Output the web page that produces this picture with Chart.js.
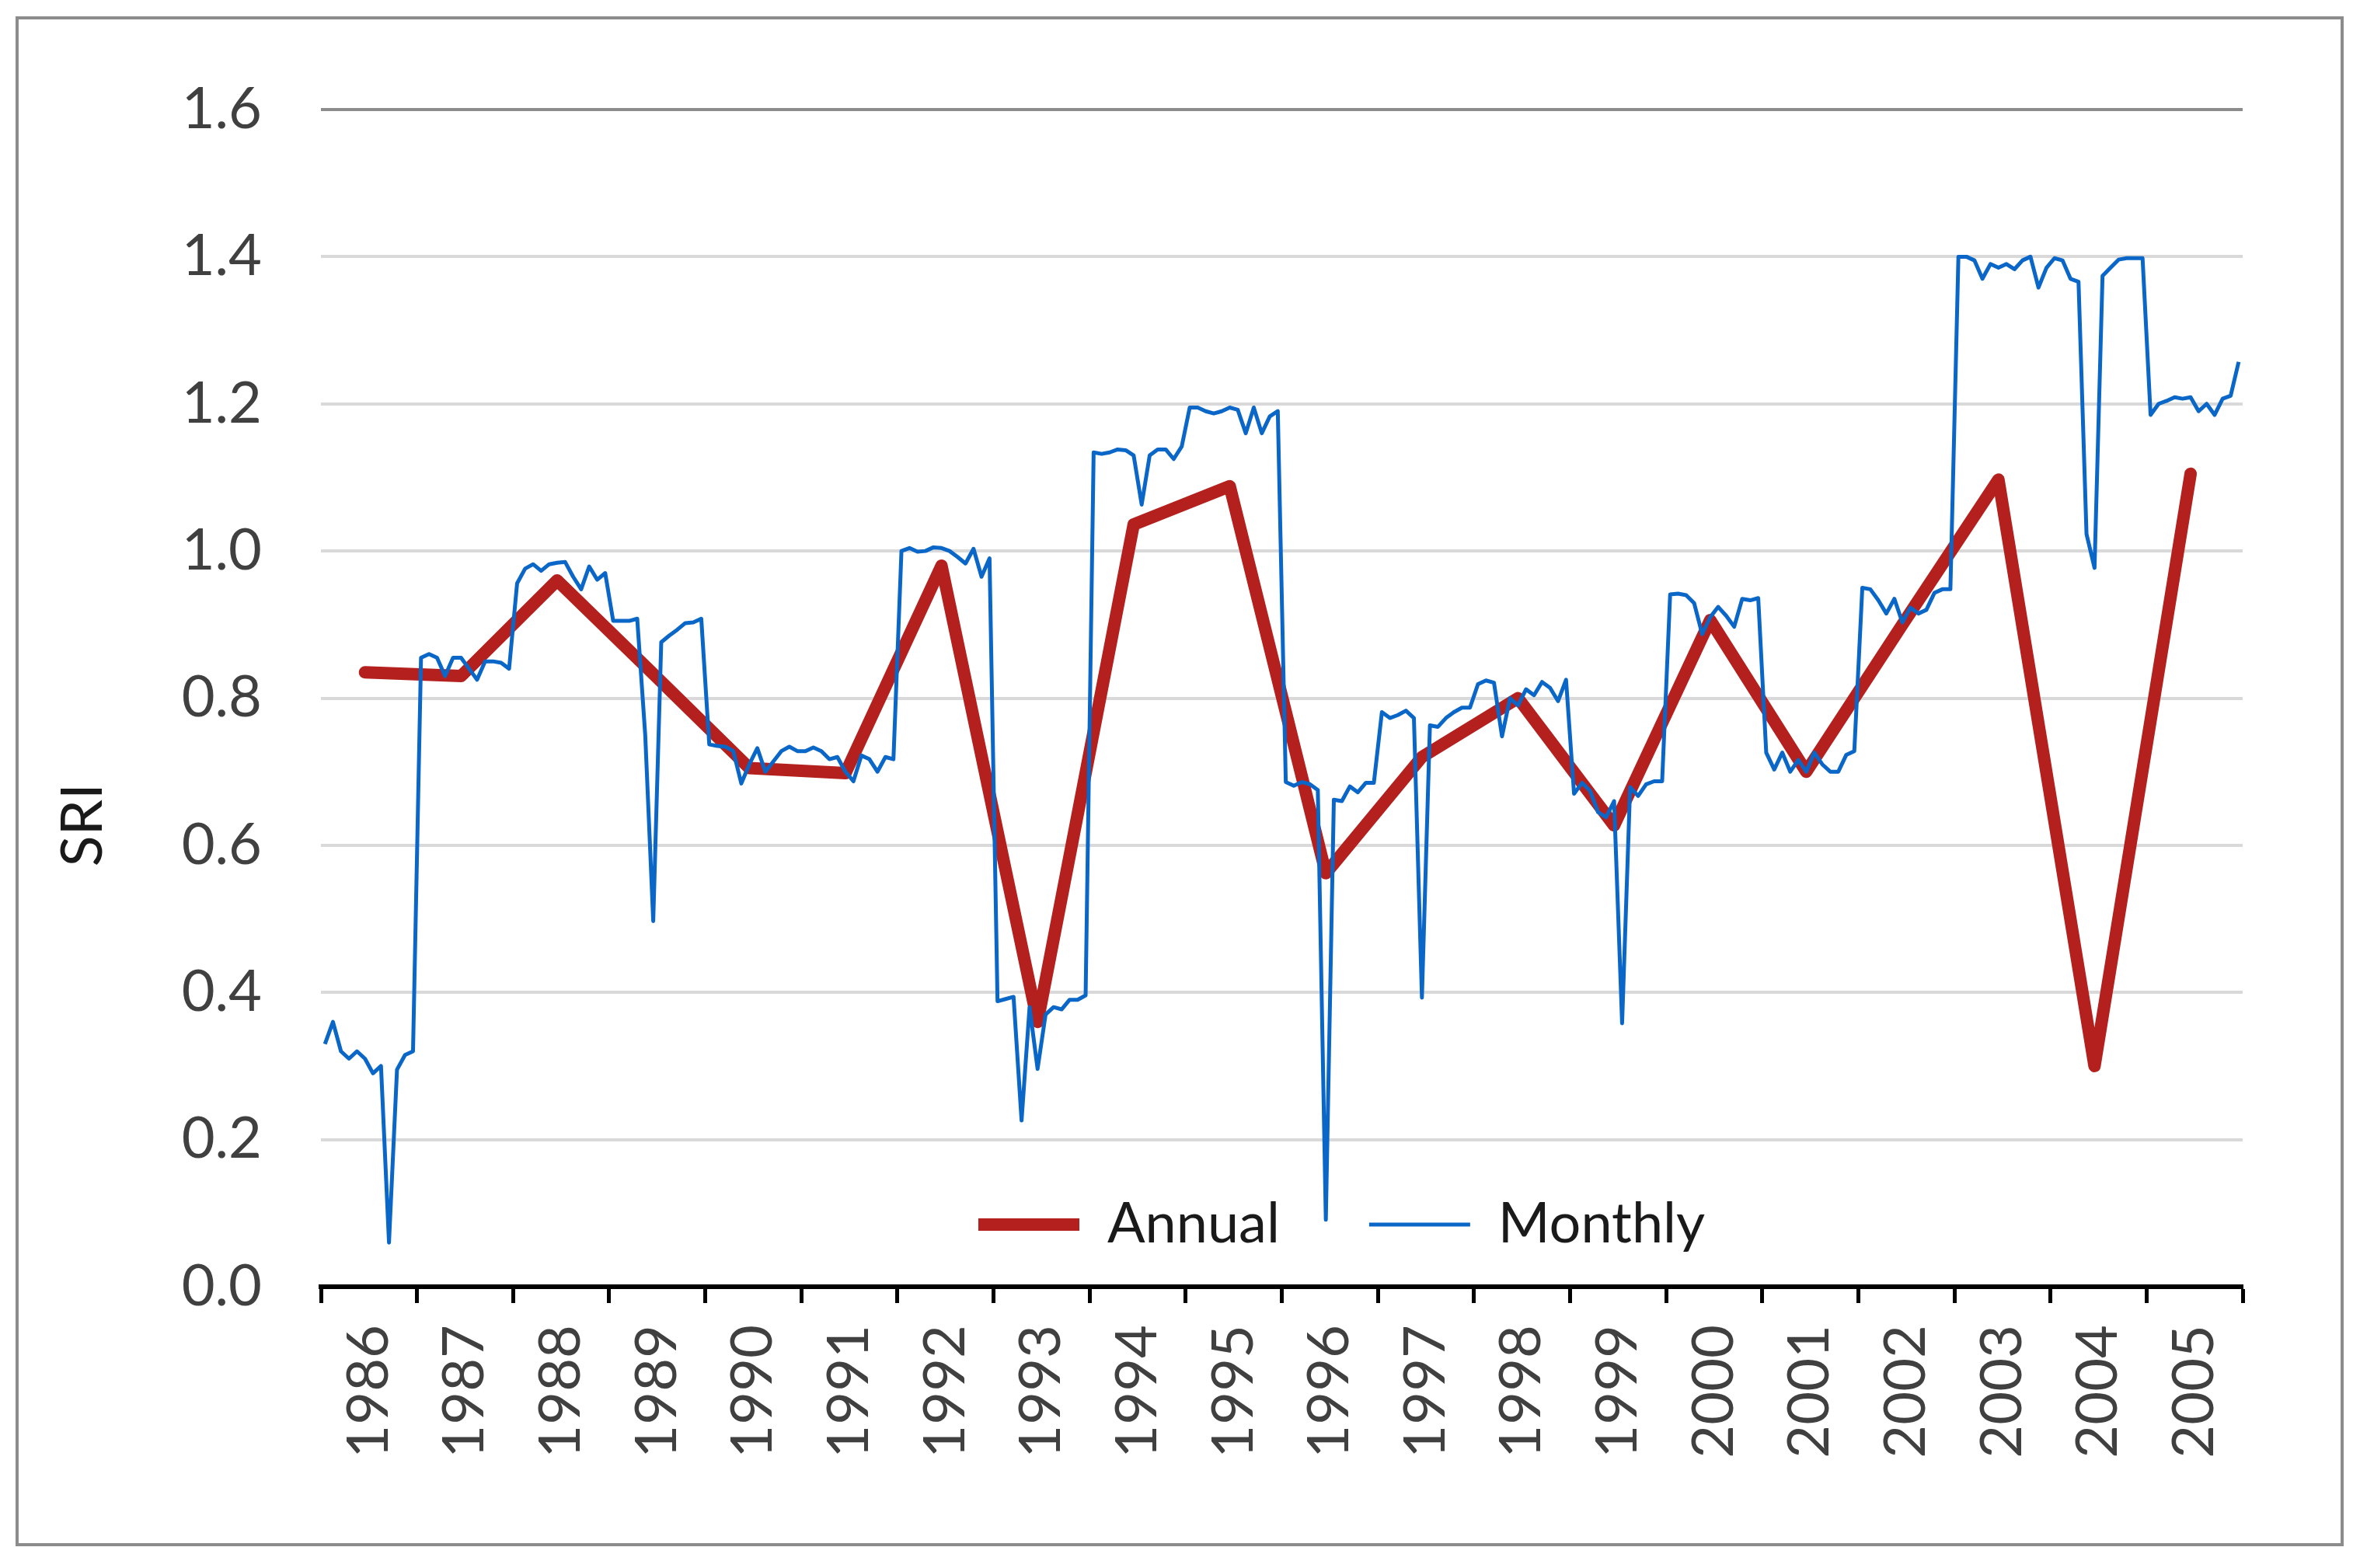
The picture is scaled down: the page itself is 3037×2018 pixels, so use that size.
<!DOCTYPE html>
<html>
<head>
<meta charset="utf-8">
<script src="https://cdn.jsdelivr.net/npm/chart.js@4.4.1/dist/chart.umd.min.js"></script>
<style>
  html, body { margin: 0; padding: 0; background: #ffffff; width: 3037px; height: 2018px; overflow: hidden; }
  #frame { position: absolute; left: 20px; top: 21px; width: 2996px; height: 1969px; border: 4px solid #8c8c8c; box-sizing: border-box; }
  #c { position: absolute; left: 0; top: 0; width: 3037px; height: 2018px; }
</style>
</head>
<body>
<div id="frame"></div>
<canvas id="c" width="3037" height="2018"></canvas>
<script>
// ---- data ----
const years = ['1986','1987','1988','1989','1990','1991','1992','1993','1994','1995',
               '1996','1997','1998','1999','2000','2001','2002','2003','2004','2005'];

const annual = [0.835, 0.83, 0.96, 0.833, 0.705, 0.698, 0.98, 0.36, 1.036, 1.088,
                0.562, 0.72, 0.80, 0.627, 0.906, 0.70, 0.90, 1.097, 0.30, 1.105];

const monthly = [
  0.33, 0.36, 0.32, 0.31, 0.32, 0.31, 0.29, 0.30, 0.06, 0.295, 0.315, 0.32,          // 1986
  0.855, 0.86, 0.855, 0.83, 0.855, 0.855, 0.84, 0.825, 0.85, 0.85, 0.848, 0.84,      // 1987
  0.956, 0.976, 0.982, 0.973, 0.982, 0.984, 0.985, 0.965, 0.948, 0.979, 0.961, 0.97, // 1988
  0.905, 0.905, 0.905, 0.908, 0.75, 0.497, 0.876, 0.885, 0.893, 0.902, 0.903, 0.908, // 1989
  0.737, 0.735, 0.734, 0.728, 0.684, 0.71, 0.732, 0.70, 0.714, 0.728, 0.734, 0.728,  // 1990
  0.728, 0.733, 0.728, 0.717, 0.72, 0.70, 0.687, 0.722, 0.717, 0.70, 0.72, 0.717,    // 1991
  1.0, 1.004, 0.999, 1.0, 1.005, 1.004, 1.0, 0.992, 0.983, 1.003, 0.965, 0.99,       // 1992
  0.388, 0.391, 0.394, 0.226, 0.38, 0.296, 0.37, 0.38, 0.377, 0.39, 0.39, 0.396,     // 1993
  1.134, 1.132, 1.134, 1.138, 1.137, 1.13, 1.063, 1.13, 1.138, 1.138, 1.125, 1.142,  // 1994
  1.195, 1.195, 1.19, 1.187, 1.19, 1.195, 1.192, 1.16, 1.195, 1.16, 1.183, 1.19,     // 1995
  0.686, 0.681, 0.686, 0.683, 0.675, 0.091, 0.662, 0.66, 0.68, 0.672, 0.685, 0.685,  // 1996
  0.781, 0.773, 0.777, 0.783, 0.773, 0.393, 0.763, 0.761, 0.773, 0.781, 0.787, 0.787, // 1997
  0.819, 0.824, 0.821, 0.748, 0.80, 0.79, 0.812, 0.804, 0.822, 0.814, 0.796, 0.825,  // 1998
  0.67, 0.685, 0.674, 0.645, 0.638, 0.66, 0.358, 0.679, 0.667, 0.683, 0.687, 0.687,  // 1999
  0.941, 0.942, 0.94, 0.929, 0.887, 0.91, 0.924, 0.912, 0.897, 0.935, 0.933, 0.936,  // 2000
  0.726, 0.703, 0.726, 0.70, 0.716, 0.70, 0.726, 0.71, 0.70, 0.70, 0.723, 0.728,     // 2001
  0.95, 0.948, 0.933, 0.915, 0.935, 0.903, 0.923, 0.915, 0.92, 0.943, 0.948, 0.948,  // 2002
  1.40, 1.40, 1.395, 1.37, 1.39, 1.385, 1.39, 1.383, 1.395, 1.40, 1.358, 1.385,      // 2003
  1.398, 1.395, 1.37, 1.366, 1.023, 0.977, 1.374, 1.385, 1.396, 1.398, 1.398, 1.398, // 2004
  1.185, 1.20, 1.204, 1.209, 1.207, 1.209, 1.19, 1.20, 1.185, 1.207, 1.211, 1.257    // 2005
];

const yTicks = [0, 0.2, 0.4, 0.6, 0.8, 1.0, 1.2, 1.4, 1.6];
const yTitleText = 'SRI';

// ---- helpers (position on the monthly category axis) ----
const MONTHS = 12;
const monthlyPoints = monthly.map((v, i) => ({ x: i + 0.5, y: v }));
const annualPoints = annual.map((v, k) => ({ x: k * MONTHS + 5.5, y: v }));
const xTickValues = [];
for (let k = 0; k <= years.length * 2; k++) xTickValues.push(k * MONTHS / 2);

const FONT = 'Lato';
const TICK_SIZE = 74;
const LEGEND_SIZE = 72;
const LEGEND_X = 1258;
const LEGEND_Y = 1576;

const legendPlace = {
  id: 'legendPlace',
  afterLayout(chart) {
    const lg = chart.legend;
    if (!lg || !lg.lineWidths) return;
    const p = lg.options.labels.padding;
    const lw = lg.lineWidths[0];
    lg.left = LEGEND_X - p;
    lg.right = LEGEND_X + lw + 2;
    lg.width = lg.right - lg.left;
    lg.top = LEGEND_Y - p - LEGEND_SIZE / 2;
    lg.bottom = lg.top + 2 * p + LEGEND_SIZE + 20;
    lg.height = lg.bottom - lg.top;
  }
};

const yTitle = {
  id: 'yTitle',
  afterDraw(chart) {
    const c = chart.ctx;
    c.save();
    c.translate(107, 1062);
    c.rotate(-Math.PI / 2);
    c.font = TICK_SIZE + 'px ' + FONT;
    c.fillStyle = '#1a1a1a';
    c.textAlign = 'center';
    c.textBaseline = 'middle';
    c.fillText(yTitleText, 0, 0);
    c.restore();
  }
};

new Chart(document.getElementById('c'), {
  type: 'line',
  data: {
    datasets: [
      {
        label: 'Annual',
        data: annualPoints,
        borderColor: '#B4201E',
        backgroundColor: '#B4201E',
        borderWidth: 16,
        borderCapStyle: 'round',
        borderJoinStyle: 'round',
        pointRadius: 0,
        tension: 0,
        fill: false,
        order: 2
      },
      {
        label: 'Monthly',
        data: monthlyPoints,
        borderColor: '#0A67C8',
        backgroundColor: '#0A67C8',
        borderWidth: 5,
        borderCapStyle: 'butt',
        borderJoinStyle: 'round',
        pointRadius: 0,
        tension: 0,
        fill: false,
        order: 1
      }
    ]
  },
  options: {
    responsive: false,
    devicePixelRatio: 1,
    animation: false,
    events: [],
    layout: { padding: { left: 40, top: 140, right: 151, bottom: 112 } },
    plugins: {
      tooltip: { enabled: false },
      title: { display: false },
      legend: {
        display: true,
        position: 'top',
        maxHeight: 1,
        labels: {
          usePointStyle: true,
          pointStyle: 'line',
          pointStyleWidth: 130,
          padding: 115,
          color: '#1a1a1a',
          font: { family: FONT, size: LEGEND_SIZE },
          sort: (a, b) => a.datasetIndex - b.datasetIndex
        }
      }
    },
    scales: {
      x: {
        type: 'linear',
        min: 0,
        max: years.length * MONTHS,
        afterBuildTicks: (axis) => { axis.ticks = xTickValues.map(v => ({ value: v })); },
        afterFit: (scale) => { scale.height = 250; },
        grid: {
          drawOnChartArea: false,
          drawTicks: true,
          tickLength: 21,
          tickWidth: 5,
          tickColor: (ctx) => (ctx.tick && ctx.tick.value % MONTHS === 0) ? '#000000' : 'rgba(0,0,0,0)'
        },
        border: { display: true, color: '#000000', width: 6 },
        ticks: {
          autoSkip: false,
          minRotation: 90,
          maxRotation: 90,
          padding: 28,
          color: '#404040',
          font: { family: FONT, size: TICK_SIZE },
          callback: (value) => (value % MONTHS === MONTHS / 2) ? years[(value - MONTHS / 2) / MONTHS] : ''
        }
      },
      y: {
        type: 'linear',
        min: 0,
        max: 1.6,
        afterBuildTicks: (axis) => { axis.ticks = yTicks.map(v => ({ value: v })); },
        afterFit: (scale) => { scale.width = 373; },
        grid: {
          drawTicks: false,
          lineWidth: 4,
          color: (ctx) => (ctx.tick && ctx.tick.value > 1.59) ? '#8c8c8c' : '#d9d9d9'
        },
        border: { display: false },
        title: { display: false },
        ticks: {
          padding: 76,
          color: '#404040',
          font: { family: FONT, size: TICK_SIZE },
          callback: (value) => Number(value).toFixed(1)
        }
      }
    }
  },
  plugins: [legendPlace, yTitle]
});
</script>
</body>
</html>
